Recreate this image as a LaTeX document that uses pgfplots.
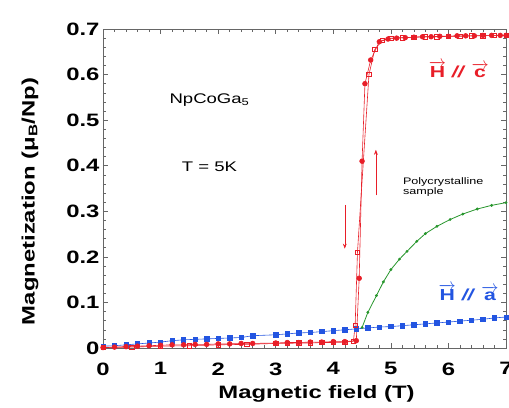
\documentclass[border=0pt]{standalone}
\usepackage{pgfplots}
\pgfplotsset{compat=1.18}
\usetikzlibrary{arrows.meta}
\usepackage{fontspec}
\setmainfont{Liberation Sans}[FakeStretch=1.33]
\definecolor{cred}{RGB}{232,30,40}
\definecolor{cblue}{RGB}{35,85,225}
\definecolor{cgreen}{RGB}{40,150,45}
\begin{document}
\begin{tikzpicture}
\path[use as bounding box] (-103bp,-60bp) rectangle (406bp,348bp);
\begin{axis}[
  at={(0,0)}, anchor=south west,
  scale only axis, width=403bp, height=319bp,
  xmin=0, xmax=7, ymin=0, ymax=0.7,
  xtick={0,1,...,7}, ytick={0,0.1,...,0.7},
  minor x tick num=4, minor y tick num=4,
  tick align=inside, major tick length=5bp, minor tick length=3bp,
  axis line style={gray!80!black, line width=0.6pt},
  every tick/.style={gray!80!black, line width=0.5pt},
  /pgf/number format/assume math mode=true,
  yticklabel={\ifdim\tick pt=0pt 0\else\pgfmathprintnumber[fixed,fixed zerofill,precision=1]{\tick}\fi},
  tick label style={font=\bfseries\fontsize{18}{18}\selectfont},
  xticklabel style={yshift=-11bp},
  xlabel={Magnetic field (T)},
  ylabel={Magnetization (μ\textsubscript{B}/Np)},
  label style={font=\bfseries\fontsize{18}{18}\selectfont},
  xlabel style={xshift=12bp, yshift=-3bp},
  ylabel style={yshift=21bp, xshift=-13bp},
  clip=false,
]
% blue H//a
\addplot[cblue, line width=0.6pt, mark=square*, mark size=2.2pt] coordinates {
(0,0.004)(0.2,0.005)(0.4,0.007)(0.6,0.009)(0.8,0.011)(1.0,0.013)(1.2,0.016)(1.4,0.018)(1.6,0.019)(1.8,0.020)(2.0,0.021)(2.2,0.022)(2.4,0.023)(2.6,0.027)
(3.0,0.029)(3.2,0.031)(3.4,0.033)(3.6,0.034)(3.8,0.036)(4.0,0.038)(4.2,0.040)(4.4,0.042)(4.6,0.044)
(4.8,0.046)(5.0,0.047)(5.2,0.049)(5.4,0.051)(5.6,0.053)(5.8,0.055)(6.0,0.057)(6.2,0.059)(6.4,0.061)(6.6,0.063)(6.8,0.066)(7.0,0.068)};
% green polycrystalline
\addplot[cgreen, line width=0.8pt, mark=*, mark size=1pt] coordinates {
(4.5,0.045)(4.6,0.078)(4.75,0.115)(4.87,0.145)(5.0,0.172)(5.15,0.195)(5.28,0.212)(5.45,0.234)(5.6,0.251)(5.8,0.267)(6.03,0.282)(6.25,0.294)(6.5,0.305)(6.75,0.313)(7.0,0.319)};
% red H//c down sweep
\addplot[cred, line width=0.6pt, mark=square, mark size=2.2pt] coordinates {
(7,0.686)(6.8,0.686)(6.6,0.685)(6.4,0.685)(6.2,0.684)(6.0,0.684)(5.8,0.683)(5.6,0.683)(5.4,0.682)(5.2,0.681)(5.0,0.68)(4.85,0.675)(4.72,0.655)(4.62,0.6)(4.42,0.21)(4.38,0.05)(4.35,0.015)
(4.2,0.013)(4.0,0.012)(3.8,0.012)(3.6,0.011)(3.4,0.011)(3.2,0.010)(3.0,0.010)(2.5,0.008)(2.0,0.007)(1.5,0.005)(1.0,0.004)(0.5,0.002)(0,0.001)};
% red H//c up sweep
\addplot[cred, line width=0.6pt, mark=*, mark size=2.4pt] coordinates {
(0,0.001)(0.2,0.002)(0.4,0.003)(0.6,0.004)(0.8,0.005)(1.0,0.006)(1.2,0.007)(1.4,0.007)(1.6,0.008)(1.8,0.008)(2.0,0.009)(2.2,0.009)(2.4,0.010)(2.6,0.010)
(3.0,0.011)(3.2,0.012)(3.4,0.012)(3.6,0.013)(3.8,0.013)(4.0,0.014)(4.2,0.014)(4.4,0.016)(4.45,0.153)(4.5,0.41)(4.55,0.58)(4.65,0.632)(4.8,0.672)
(4.95,0.678)(5.1,0.680)(5.25,0.681)(5.4,0.682)(5.55,0.683)(5.7,0.683)(5.85,0.684)(6.0,0.684)(6.15,0.685)(6.3,0.685)(6.45,0.685)(6.6,0.686)(6.75,0.686)(6.9,0.686)(7.0,0.686)};
% annotations
\node[font=\fontsize{14}{14}\selectfont] at (axis cs:1.85,0.545) {NpCoGa\textsubscript{5}};
\node[font=\fontsize{14}{14}\selectfont] at (axis cs:1.85,0.397) {T = 5K};
\node[font=\bfseries\fontsize{16}{16}\selectfont, text=cred] at (axis cs:6.18,0.612) {$\overrightarrow{\mbox{H}}$ \textit{//} $\overrightarrow{\mbox{c}}$};
\node[font=\bfseries\fontsize{16}{16}\selectfont, text=cblue] at (axis cs:6.35,0.122) {$\overrightarrow{\mbox{H}}$ \textit{//} $\overrightarrow{\mbox{a}}$};
\node[font=\fontsize{9.5}{10}\selectfont, align=left, anchor=west] at (axis cs:5.15,0.353) {Polycrystalline\\sample};
\draw[cred, -{Stealth[length=5bp]}, line width=0.5pt] (axis cs:4.74,0.335) -- (axis cs:4.74,0.435);
\draw[cred, -{Stealth[length=5bp]}, line width=0.5pt] (axis cs:4.2,0.314) -- (axis cs:4.2,0.218);
\end{axis}
\end{tikzpicture}
\end{document}
